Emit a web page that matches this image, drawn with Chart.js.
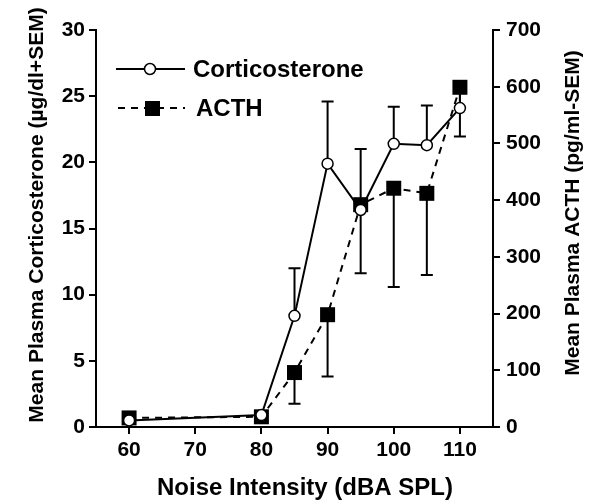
<!DOCTYPE html>
<html>
<head>
<meta charset="utf-8">
<script src="https://cdn.jsdelivr.net/npm/chart.js@4"></script>
<style>
html, body { margin: 0; padding: 0; background: #fff; }
</style>
</head>
<body>
<canvas id="chart" width="600" height="504"></canvas>
<script>
// noise levels (dBA SPL)
const noise = [60, 80, 85, 90, 95, 100, 105, 110];
// corticosterone, ug/dl, +SEM
const cortMean = [0.5, 0.9, 8.4, 19.9, 16.4, 21.4, 21.3, 24.1];
const cortSem = [0, 0, 3.6, 4.7, 4.6, 2.8, 3.0, 1.3];
// ACTH, pg/ml, -SEM
const acthMean = [16, 18, 96, 198, 392, 421, 412, 599];
const acthSem = [0, 0, 55, 109, 121, 174, 144, 87];

const xTicks = [60, 70, 80, 90, 100, 110];
const leftLabel = 'Mean Plasma Corticosterone (\u00b5g/dl+SEM)';
const rightLabel = 'Mean Plasma ACTH (pg/ml-SEM)';
const xLabel = 'Noise Intensity (dBA SPL)';

const FONT = "'Liberation Sans', Arial, sans-serif";

const errorBars = {
  id: 'errorBars',
  beforeDatasetsDraw(chart) {
    const ctx = chart.ctx, xs = chart.scales.x;
    ctx.save();
    ctx.strokeStyle = '#000';
    ctx.lineWidth = 2;
    function bars(ys, means, sems, dir) {
      noise.forEach((n, i) => {
        if (!sems[i]) return;
        const px = xs.getPixelForValue(n);
        const p0 = ys.getPixelForValue(means[i]);
        const p1 = ys.getPixelForValue(means[i] + dir * sems[i]);
        ctx.beginPath();
        ctx.moveTo(px, p0); ctx.lineTo(px, p1);
        ctx.moveTo(px - 6, p1); ctx.lineTo(px + 6, p1);
        ctx.stroke();
      });
    }
    bars(chart.scales.yL, cortMean, cortSem, 1);
    bars(chart.scales.yR, acthMean, acthSem, -1);
    ctx.restore();
  }
};

const labelsAndKey = {
  id: 'labelsAndKey',
  afterDraw(chart) {
    const ctx = chart.ctx;
    ctx.save();
    ctx.fillStyle = '#000';
    ctx.strokeStyle = '#000';
    ctx.textBaseline = 'middle';

    // axis titles
    ctx.font = 'bold 21px ' + FONT;
    ctx.textAlign = 'center';
    ctx.save();
    ctx.translate(37, 215);
    ctx.rotate(-Math.PI / 2);
    ctx.fillText(leftLabel, 0, 0);
    ctx.restore();
    ctx.save();
    ctx.translate(573, 213);
    ctx.rotate(-Math.PI / 2);
    ctx.fillText(rightLabel, 0, 0);
    ctx.restore();
    ctx.font = 'bold 24px ' + FONT;
    ctx.fillText(xLabel, 305, 488);

    // key
    ctx.lineWidth = 2;
    ctx.beginPath();
    ctx.moveTo(116, 69); ctx.lineTo(185, 69);
    ctx.stroke();
    ctx.beginPath();
    ctx.arc(150, 69, 5.5, 0, Math.PI * 2);
    ctx.fillStyle = '#fff';
    ctx.fill();
    ctx.lineWidth = 1.5;
    ctx.stroke();
    ctx.lineWidth = 2;
    ctx.setLineDash([7, 6]);
    ctx.beginPath();
    ctx.moveTo(118, 108); ctx.lineTo(185, 108);
    ctx.stroke();
    ctx.setLineDash([]);
    ctx.fillStyle = '#000';
    ctx.fillRect(145, 101, 15, 15);

    ctx.textAlign = 'left';
    ctx.font = 'bold 24px ' + FONT;
    ctx.fillText('Corticosterone', 193, 70);
    ctx.fillText('ACTH', 196, 109);
    ctx.restore();
  }
};

const tickFont = { family: FONT, size: 21, weight: 'bold' };
const gridOpts = { drawOnChartArea: false, drawTicks: true, tickLength: 7, color: '#000', lineWidth: 2 };
const borderOpts = { color: '#000', width: 2 };

new Chart(document.getElementById('chart'), {
  type: 'line',
  data: {
    datasets: [{
      label: 'Corticosterone',
      data: noise.map((n, i) => ({ x: n, y: cortMean[i] })),
      yAxisID: 'yL',
      borderColor: '#000',
      borderWidth: 2,
      pointStyle: 'circle',
      pointRadius: 5.5,
      pointBorderWidth: 1.5,
      pointBackgroundColor: '#fff',
      pointBorderColor: '#000',
      tension: 0,
      order: 1
    }, {
      label: 'ACTH',
      data: noise.map((n, i) => ({ x: n, y: acthMean[i] })),
      yAxisID: 'yR',
      borderColor: '#000',
      borderWidth: 2,
      borderDash: [7, 6],
      pointStyle: 'rect',
      pointRadius: 10.6,
      pointBorderWidth: 0,
      pointBackgroundColor: '#000',
      pointBorderColor: '#000',
      tension: 0,
      order: 2
    }]
  },
  options: {
    responsive: false,
    animation: false,
    clip: false,
    layout: { padding: { top: 30, left: 0, right: 0, bottom: 0 } },
    plugins: { legend: { display: false }, tooltip: { enabled: false } },
    scales: {
      x: {
        type: 'linear',
        min: 55, max: 115,
        afterBuildTicks: axis => { axis.ticks = xTicks.map(v => ({ value: v })); },
        afterFit: s => { s.height = 77; },
        grid: gridOpts,
        border: borderOpts,
        ticks: { color: '#000', font: tickFont, padding: 4, maxRotation: 0 }
      },
      yL: {
        position: 'left',
        min: 0, max: 30,
        afterFit: s => { s.width = 96; },
        grid: gridOpts,
        border: borderOpts,
        ticks: { stepSize: 5, color: '#000', font: tickFont, padding: 4 }
      },
      yR: {
        position: 'right',
        min: 0, max: 700,
        afterFit: s => { s.width = 107; },
        grid: gridOpts,
        border: borderOpts,
        ticks: { stepSize: 100, color: '#000', font: tickFont, padding: 6 }
      }
    }
  },
  plugins: [errorBars, labelsAndKey]
});
</script>
</body>
</html>
